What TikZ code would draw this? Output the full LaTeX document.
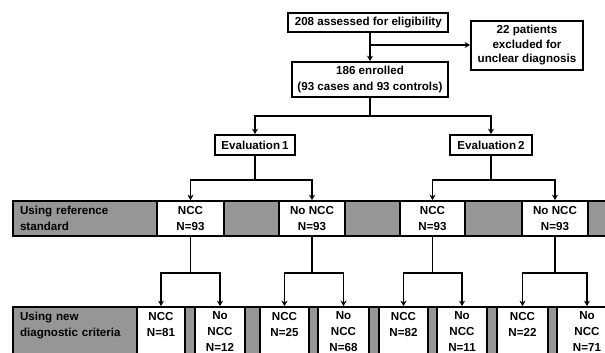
\documentclass[tikz,border=0pt]{standalone}
\usepackage{fontspec}
\setmainfont{Liberation Sans}
\usetikzlibrary{arrows.meta,calc}
\definecolor{gband}{RGB}{150,150,150}
\tikzset{
  txt/.style={font=\fontsize{11.6}{16}\selectfont\bfseries},
  box/.style={txt, draw=black, line width=1.7pt, fill=white, inner sep=0pt, align=center},
  cell/.style={box, minimum height=#1},
  grey/.style={draw=black, line width=1.7pt, fill=gband, inner sep=0pt, minimum height=#1},
  conn/.style={draw=black, line width=1.7pt},
  arr/.style={conn, -{Stealth[length=5.5pt,width=6pt]}}
}
\begin{document}
\begin{tikzpicture}[x=1pt,y=1pt]
\useasboundingbox (0,0) rectangle (605,-353);
\clip (0,0) rectangle (605,-353);
\fill[white] (0,0) rectangle (605,-353);
% top boxes
\node[box, minimum width=160pt, minimum height=19pt] (t1) at (368.3,-22.5) {208 assessed for eligibility};
\node[box, minimum width=112pt, minimum height=49pt, font=\fontsize{11.6}{14.5}\selectfont\bfseries] (ex) at (527,-45.5) {22 patients\\excluded for\\unclear diagnosis};
\node[box, minimum width=156pt, minimum height=35pt] (enr) at (370,-79.5) {186 enrolled\\(93 cases and 93 controls)};
\node[box, minimum width=80pt, minimum height=20pt] (e1) at (255,-145) {Evaluation\,1};
\node[box, minimum width=82pt, minimum height=20pt] (e2) at (491,-145) {Evaluation\,2};
% band 1
\node[grey=35pt, minimum width=144pt, txt, text width=130pt, inner xsep=7pt, align=left] (lab1) at (85,-218.5) {Using reference\\standard};
\node[cell=35pt, minimum width=67pt] (n1) at (190.5,-218.5) {NCC\\N=93};
\node[grey=35pt, minimum width=55pt] (g1) at (251.5,-218.5) {};
\node[cell=35pt, minimum width=66pt] (n2) at (312,-218.5) {No NCC\\N=93};
\node[grey=35pt, minimum width=55pt] (g2) at (372.5,-218.5) {};
\node[cell=35pt, minimum width=65pt] (n3) at (432.5,-218.5) {NCC\\N=93};
\node[grey=35pt, minimum width=57pt] (g3) at (493.5,-218.5) {};
\node[cell=35pt, minimum width=66pt] (n4) at (555,-218.5) {No NCC\\N=93};
\node[grey=35pt, minimum width=32pt] (g4) at (604,-218.5) {};
% band 2
\node[grey=50pt, minimum width=124pt, txt, text width=110pt, inner xsep=7pt, align=left] (lab2) at (75,-332) {Using new\\diagnostic criteria\\\mbox{}};
\node[cell=50pt, minimum width=48pt] (m1) at (161,-332) {NCC\\N=81\\\mbox{}};
\node[grey=50pt, minimum width=10pt] (h1) at (190,-332) {};
\node[cell=50pt, minimum width=50pt] (m2) at (220,-332) {No\\NCC\\N=12};
\node[grey=50pt, minimum width=15pt] (h2) at (252.5,-332) {};
\node[cell=50pt, minimum width=49pt] (m3) at (284.5,-332) {NCC\\N=25\\\mbox{}};
\node[grey=50pt, minimum width=9pt] (h3) at (313.5,-332) {};
\node[cell=50pt, minimum width=51pt] (m4) at (343.5,-332) {No\\NCC\\N=68};
\node[grey=50pt, minimum width=10pt] (h4) at (374,-332) {};
\node[cell=50pt, minimum width=49pt] (m5) at (403.5,-332) {NCC\\N=82\\\mbox{}};
\node[grey=50pt, minimum width=9pt] (h5) at (432.5,-332) {};
\node[cell=50pt, minimum width=50pt] (m6) at (462,-332) {No\\NCC\\N=11};
\node[grey=50pt, minimum width=10pt] (h6) at (492,-332) {};
\node[cell=50pt, minimum width=51pt] (m7) at (522.5,-332) {NCC\\N=22\\\mbox{}};
\node[grey=50pt, minimum width=9pt] (h7) at (552.5,-332) {};
\node[cell=50pt, minimum width=60pt] (m8) at (587,-332) {No\\NCC\\N=71};
% connectors top
\coordinate (j) at (370,-45);
\draw[arr] (t1.south -| enr.north) -- (enr.north);
\draw[arr] (j) -- (j -| ex.west);
\path (enr.south) ++(0,-18) coordinate (b0);
\draw[conn] (enr.south) -- (b0);
\draw[arr] (b0) -| (e1.north);
\draw[arr] (b0) -| (e2.north);
% evaluations to band 1
\path (e1.south) ++(0,-24) coordinate (b1);
\path (e2.south) ++(0,-24) coordinate (b2);
\draw[conn] (e1.south) -- (b1);
\draw[conn] (e2.south) -- (b2);
\draw[arr] (b1) -| (n1.north);
\draw[arr] (b1) -| (n2.north);
\draw[arr] (b2) -| (n3.north);
\draw[arr] (b2) -| (n4.north);
% band 1 to band 2
\foreach \p/\a/\b [count=\i] in {n1/m1/m2, n2/m3/m4, n3/m5/m6, n4/m7/m8} {
  \path (\p.south) ++(0,-36) coordinate (c\i);
  \draw[conn] (\p.south) -- (c\i);
  \draw[arr] (c\i) -| (\a.north);
  \draw[arr] (c\i) -| (\b.north);
}
\end{tikzpicture}
\end{document}
